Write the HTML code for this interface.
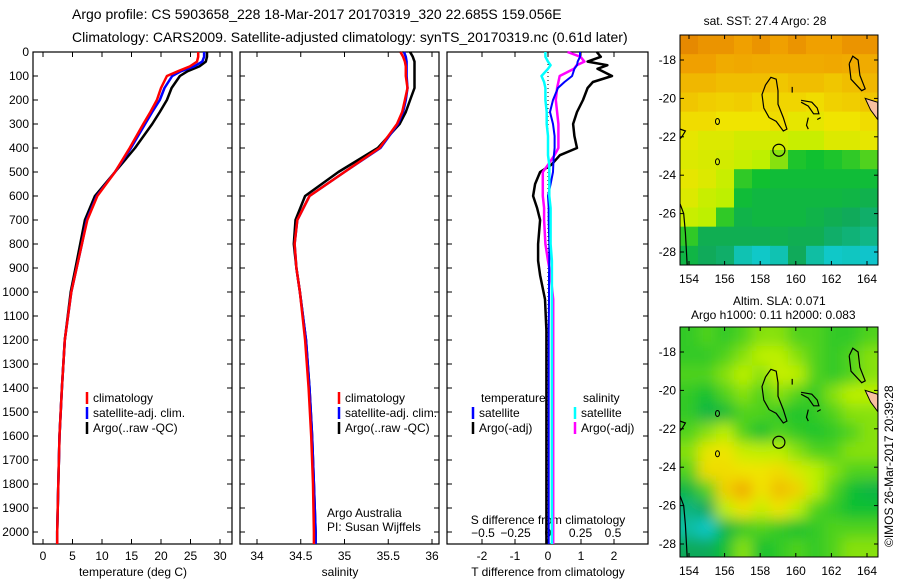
<!DOCTYPE html>
<html><head><meta charset="utf-8">
<style>
body{margin:0;background:#fff;}
svg{display:block;font-family:"Liberation Sans",sans-serif;}
</style></head>
<body>
<svg id="chart" width="900" height="580" viewBox="0 0 900 580">
<rect width="900" height="580" fill="#fff"/>
<text x="72" y="19" font-size="14">Argo profile: CS 5903658_228 18-Mar-2017 20170319_320 22.685S 159.056E</text>
<text x="72" y="42" font-size="14">Climatology: CARS2009. Satellite-adjusted climatology: synTS_20170319.nc (0.61d later)</text>
<g id="g"></g>
</svg>
<script>
// ---- data ----
const depths=[0,20,40,60,80,100,150,200,250,300,400,500,600,700,800,900,1000,1200,1400,1600,1800,2000,2050];
const tClim=[26.3,26.3,26.1,24.9,22.9,21.0,20.0,19.3,18.2,17.0,14.7,12.2,9.2,7.5,6.6,5.7,4.8,3.7,3.2,2.8,2.6,2.4,2.4];
const tSat=[27.3,27.3,27.0,25.6,23.4,21.9,20.6,19.8,18.5,17.3,14.9,12.2,9.1,7.4,6.6,5.7,4.8,3.7,3.2,2.8,2.6,2.4,2.4];
const tArgo=[27.8,27.8,27.6,26.5,24.5,23.2,21.8,21.0,19.8,18.5,15.6,12.2,8.8,7.1,6.3,5.5,4.7,3.7,3.2,2.8,2.6,2.4,2.4];
const sClim=[35.64,35.67,35.69,35.7,35.7,35.7,35.72,35.69,35.66,35.6,35.4,35.0,34.6,34.46,34.43,34.45,34.49,34.55,34.59,34.62,34.64,34.65,34.65];
const sSat=[35.68,35.7,35.71,35.71,35.71,35.71,35.72,35.7,35.67,35.61,35.41,35.0,34.6,34.46,34.43,34.45,34.49,34.56,34.6,34.63,34.65,34.67,34.67];
const sArgo=[35.75,35.78,35.8,35.8,35.8,35.8,35.8,35.75,35.7,35.63,35.38,34.93,34.55,34.44,34.42,34.45,34.49,34.56,34.6,34.63,34.65,34.67,34.67];
const dDepth=[0,20,40,55,70,100,125,150,200,250,300,350,400,430,470,500,550,600,650,700,800,870,930,1030,1160,1400,1700,2000,2050];
const dTArgo=[1.48,1.6,1.2,1.8,1.5,1.94,1.36,1.2,1.06,0.88,0.76,0.8,0.88,0.36,0.1,-0.24,-0.39,-0.45,-0.33,-0.24,-0.3,-0.3,-0.24,-0.09,-0.05,-0.05,-0.05,-0.05,-0.05];
const dTSat=[0.97,0.97,0.9,0.88,0.8,0.73,0.5,0.3,0.15,0.06,0.15,0.2,0.2,0.18,0.16,0.15,0.08,0.0,0.02,0.02,0.04,0.04,0.03,0.03,0.02,0.02,0.02,0.02,0.02];
const dSSat=[-0.02,-0.02,0.0,0.02,0.0,-0.05,-0.03,-0.02,-0.02,-0.01,-0.01,0.0,0.0,0.0,0.01,0.01,0.01,0.01,0.02,0.02,0.02,0.03,0.03,0.03,0.03,0.03,0.03,0.03,0.03];
const dSArgo=[0.15,0.25,0.28,0.22,0.2,0.09,0.08,0.07,0.06,0.07,0.08,0.08,0.08,0.05,0.0,-0.04,-0.04,-0.04,-0.03,-0.03,-0.02,0.0,0.02,0.04,0.04,0.04,0.04,0.04,0.04];
const depthTicks=[0,100,200,300,400,500,600,700,800,900,1000,1100,1200,1300,1400,1500,1600,1700,1800,1900,2000];
const tTicks=[0,5,10,15,20,25,30];
const sTicks=[34,34.5,35,35.5,36];
const dTTicks=[-2,-1,0,1,2];
const dSTicks=[-0.5,-0.25,0,0.25,0.5];
const lonTicks=[154,156,158,160,162,164];
const latTicks=[-18,-20,-22,-24,-26,-28];
const sstGrid=[
[0.92,0.9,0.9,0.88,0.9,0.88,0.9,0.88,0.88,0.9,0.9],
[0.88,0.88,0.85,0.86,0.85,0.85,0.85,0.85,0.86,0.85,0.85],
[0.82,0.82,0.8,0.8,0.8,0.78,0.8,0.8,0.78,0.8,0.82],
[0.78,0.76,0.75,0.76,0.74,0.74,0.74,0.72,0.75,0.76,0.78],
[0.72,0.72,0.7,0.7,0.7,0.72,0.68,0.68,0.7,0.7,0.72],
[0.68,0.66,0.66,0.64,0.64,0.64,0.62,0.62,0.66,0.66,0.68],
[0.66,0.65,0.64,0.62,0.6,0.55,0.42,0.4,0.42,0.45,0.5],
[0.68,0.66,0.62,0.45,0.4,0.38,0.38,0.38,0.38,0.38,0.38],
[0.66,0.62,0.6,0.38,0.36,0.36,0.36,0.36,0.36,0.35,0.33],
[0.62,0.6,0.45,0.34,0.36,0.36,0.36,0.34,0.32,0.3,0.28],
[0.45,0.32,0.32,0.32,0.32,0.33,0.32,0.32,0.28,0.26,0.24],
[0.35,0.3,0.28,0.18,0.15,0.18,0.3,0.2,0.15,0.16,0.14]];
const slaGrid=[
[0.45,0.5,0.45,0.5,0.55,0.55,0.5,0.5,0.45,0.45,0.5],
[0.45,0.45,0.5,0.55,0.6,0.6,0.55,0.5,0.45,0.5,0.55],
[0.5,0.5,0.55,0.6,0.55,0.62,0.6,0.5,0.45,0.5,0.55],
[0.45,0.4,0.5,0.55,0.5,0.55,0.5,0.45,0.55,0.6,0.6],
[0.45,0.35,0.38,0.5,0.5,0.45,0.42,0.45,0.5,0.55,0.55],
[0.5,0.55,0.6,0.5,0.4,0.5,0.45,0.42,0.45,0.5,0.55],
[0.55,0.68,0.7,0.62,0.6,0.6,0.55,0.5,0.5,0.55,0.55],
[0.5,0.72,0.72,0.7,0.7,0.72,0.65,0.6,0.55,0.5,0.5],
[0.35,0.5,0.75,0.85,0.7,0.8,0.75,0.6,0.5,0.4,0.35],
[0.25,0.3,0.6,0.7,0.62,0.7,0.6,0.5,0.45,0.4,0.4],
[0.2,0.15,0.35,0.45,0.5,0.45,0.4,0.45,0.5,0.5,0.5],
[0.3,0.3,0.4,0.55,0.4,0.45,0.5,0.45,0.5,0.55,0.55]];

// ---- helpers ----
const NS="http://www.w3.org/2000/svg";
const G=document.getElementById('g');
function mk(tag,attrs,parent){const e=document.createElementNS(NS,tag);for(const k in attrs)e.setAttribute(k,attrs[k]);(parent||G).appendChild(e);return e;}
function txt(x,y,s,anchor,size,name){const e=mk('text',{x:x,y:y,'font-size':size||12,'text-anchor':anchor||'start'});e.textContent=s;


return e;}
const Y=d=>52+d*0.24;
const tx=v=>43+v*5.9;
const sx=v=>257+(v-34)*87.5;
const dx=v=>548+v*33;
const ssx=v=>548+v*130;
const TOP=52,BOT=544;

function panel(x0,x1,name){
  const r=mk('rect',{x:x0,y:TOP,width:x1-x0,height:BOT-TOP,fill:'none',stroke:'#000','stroke-width':1.2});
  
  
  depthTicks.forEach(d=>{
    const a=mk('line',{x1:x0,x2:x0+5,y1:Y(d),y2:Y(d),stroke:'#000'});
    
    
    const b=mk('line',{x1:x1-5,x2:x1,y1:Y(d),y2:Y(d),stroke:'#000'});
    
    
  });
}
function xticks(ticks,f,lbly,name,fmt){
  ticks.forEach(t=>{
    const a=mk('line',{x1:f(t),x2:f(t),y1:TOP,y2:TOP+5,stroke:'#000'});
    
    
    const b=mk('line',{x1:f(t),x2:f(t),y1:BOT-5,y2:BOT,stroke:'#000'});
    
    
    if(lbly)txt(f(t),lbly,fmt?fmt(t):String(t),'middle',12,name+'-tick-label');
  });
}
function line(xs,ds,f,color,name,w){
  const pts=xs.map((v,i)=>f(v).toFixed(1)+','+Y(ds[i]).toFixed(1)).join(' ');
  const p=mk('polyline',{points:pts,fill:'none',stroke:color,'stroke-width':w||2.5,'stroke-linejoin':'round'});
  
  
}
function legend(x,y,color,label,name){
  const l=mk('line',{x1:x,x2:x,y1:y-10,y2:y+2,stroke:color,'stroke-width':2.5});
  
  
  txt(x+6,y,label,'start',12,name+'-label');
}

// depth labels
depthTicks.forEach(d=>txt(29,Y(d)+4,String(d),'end',12,'depth-tick-label'));

// panel 1 temperature
panel(33,232,'temperature-panel');
xticks(tTicks,tx,560,'temperature-x');
txt(133,576,'temperature (deg C)','middle',12,'temperature-x-axis-title');
line(tArgo,depths,tx,'#000','temperature-argo-line');
line(tSat,depths,tx,'#00f','temperature-satellite-line');
line(tClim,depths,tx,'#f00','temperature-climatology-line');
legend(87,402,'#f00','climatology','temp-legend-climatology');
legend(87,417,'#00f','satellite-adj. clim.','temp-legend-satellite');
legend(87,432,'#000','Argo(..raw -QC)','temp-legend-argo');

// panel 2 salinity
panel(240,439,'salinity-panel');
xticks(sTicks,sx,560,'salinity-x');
txt(340,576,'salinity','middle',12,'salinity-x-axis-title');
line(sArgo,depths,sx,'#000','salinity-argo-line');
line(sSat,depths,sx,'#00f','salinity-satellite-line');
line(sClim,depths,sx,'#f00','salinity-climatology-line');
legend(339,402,'#f00','climatology','sal-legend-climatology');
legend(339,417,'#00f','satellite-adj. clim.','sal-legend-satellite');
legend(339,432,'#000','Argo(..raw -QC)','sal-legend-argo');
txt(327,517,'Argo Australia','start',12,'argo-australia-credit');
txt(327,531,'PI: Susan Wijffels','start',12,'pi-credit');

// panel 3 differences
panel(447,648,'difference-panel');
xticks(dTTicks,dx,560,'tdiff-x');
dSTicks.forEach(t=>txt(ssx(t),537,String(t).replace('-','\u2212'),'middle',12,'sdiff-tick-label'));
txt(548,524,'S difference from climatology','middle',12,'sdiff-axis-title');
txt(548,576,'T difference from climatology','middle',12,'tdiff-axis-title');
const zl=mk('line',{x1:548,x2:548,y1:TOP,y2:BOT,stroke:'#000','stroke-dasharray':'1,3'});


line(dTArgo,dDepth,dx,'#000','tdiff-argo-line');
line(dSArgo,dDepth,ssx,'#f0f','sdiff-argo-line');
line(dTSat,dDepth,dx,'#00f','tdiff-satellite-line',2);
line(dSSat,dDepth,ssx,'#0ff','sdiff-satellite-line');
txt(481,402,'temperature','start',12,'legend-temperature-heading');
legend(473,417,'#00f','satellite','diff-legend-t-satellite');
legend(473,432,'#000','Argo(-adj)','diff-legend-t-argo');
txt(583,402,'salinity','start',12,'legend-salinity-heading');
legend(575,417,'#0ff','satellite','diff-legend-s-satellite');
legend(575,432,'#f0f','Argo(-adj)','diff-legend-s-argo');

// ---- maps ----
const stops=[[0,[16,140,240]],[0.15,[16,200,200]],[0.3,[16,170,90]],[0.4,[16,192,48]],[0.5,[80,210,30]],[0.6,[190,240,0]],[0.7,[240,228,0]],[0.8,[240,190,0]],[0.88,[240,160,0]],[1,[210,90,0]]];
function cmap(v){for(let i=1;i<stops.length;i++){if(v<=stops[i][0]){const a=stops[i-1],b=stops[i],t=(v-a[0])/(b[0]-a[0]);return 'rgb('+a[1].map((c,k)=>Math.round(c+(b[1][k]-c)*t)).join(',')+')';}}return 'rgb(210,90,0)';}
const coast=[
[[158.3,-19.3],[158.6,-18.9],[158.9,-19],[159,-19.6],[159,-20.3],[159.3,-21],[159.5,-21.6],[159.3,-21.7],[158.9,-21.2],[158.5,-21],[158.2,-20.5],[158.1,-19.8],[158.3,-19.3]],
[[160.3,-20.1],[160.9,-20.2],[161.2,-20.5],[161.3,-20.8],[161,-20.8],[160.7,-20.4],[160.3,-20.2]],
[[163,-18.2],[163.2,-17.8],[163.5,-18],[163.6,-18.8],[163.9,-19.5],[163.7,-19.6],[163.1,-19],[163,-18.2]],
[[153.5,-25.5],[153.7,-26],[153.8,-27],[153.9,-28.7]],
[[153.5,-21.6],[153.8,-21.7],[153.6,-22],[153.5,-22.1]],
[[160.7,-21],[160.6,-21.4],[160.7,-21.6]],[[161.2,-21.1],[161.4,-21.0]],[[159.8,-19.4],[159.8,-19.7]]];
function drawMap(y0,grid,name,blur){
  const lx=l=>689+(l-154)*17.8;
  const ly=la=>y0+25+(-18-la)*19.2;
  const X0=680,X1=878,Y0=y0,Y1=y0+230;
  const cid='clip'+name;
  const defs=mk('defs',{});
  const cp=mk('clipPath',{id:cid},defs);mk('rect',{x:X0,y:Y0,width:X1-X0,height:Y1-Y0},cp);
  if(blur){const f=mk('filter',{id:'bl'+name,x:'-10%',y:'-10%',width:'120%',height:'120%'},defs);mk('feGaussianBlur',{stdDeviation:7,'edgeMode':'duplicate'},f);}
  const gg=mk('g',{'clip-path':'url(#'+cid+')'});
  
  
  const cells=mk('g',blur?{filter:'url(#bl'+name+')'}:{},gg);
  const cw=(X1-X0)/11,ch=(Y1-Y0)/12;
  grid.forEach((row,j)=>row.forEach((v,i)=>{
    const c=mk('rect',{x:X0+i*cw-(blur?20*(i==0):0),y:Y0+j*ch-(blur?20*(j==0):0),width:cw+0.5+(blur?20*((i==0)+(i==10)):0),height:ch+0.5+(blur?20*((j==0)+(j==11)):0),fill:cmap(v)},cells);
    
    
  }));
  const land=mk('polygon',{points:[[163.9,-20],[164.6,-20.2],[164.6,-21.1],[164.2,-20.6]].map(p=>lx(p[0])+','+ly(p[1])).join(' '),fill:'#f8c0a0',stroke:'#000'},gg);
  
  
  coast.forEach(c=>{const p=mk('polyline',{points:c.map(q=>lx(q[0]).toFixed(1)+','+ly(q[1]).toFixed(1)).join(' '),fill:'none',stroke:'#000','stroke-width':1.2},gg);
    
    });
  const ci=mk('circle',{cx:lx(159.05),cy:ly(-22.7),r:6,fill:'none',stroke:'#000','stroke-width':1.2},gg);
  
  
  [[155.6,-21.2],[155.6,-23.3]].forEach(q=>{const e=mk('ellipse',{cx:lx(q[0]),cy:ly(q[1]),rx:2,ry:3,fill:'none',stroke:'#000'},gg);
    
    });
  const fr=mk('rect',{x:X0,y:Y0,width:X1-X0,height:Y1-Y0,fill:'none',stroke:'#000'});
  
  
  lonTicks.forEach(l=>{
    const a=mk('line',{x1:lx(l),x2:lx(l),y1:Y0,y2:Y0+4,stroke:'#000'});
    
    
    const b=mk('line',{x1:lx(l),x2:lx(l),y1:Y1-4,y2:Y1,stroke:'#000'});
    
    
    txt(lx(l),Y1+18,String(l),'middle',12,name+'-lon-label');
  });
  latTicks.forEach(la=>{
    const a=mk('line',{x1:X0,x2:X0+4,y1:ly(la),y2:ly(la),stroke:'#000'});
    
    
    const b=mk('line',{x1:X1-4,x2:X1,y1:ly(la),y2:ly(la),stroke:'#000'});
    
    
    txt(X0-4,ly(la)+4,String(la),'end',12,name+'-lat-label');
  });
}
drawMap(35,sstGrid,'sst-map',false);
txt(765,25,'sat. SST: 27.4  Argo: 28','middle',12,'sst-map-title');
drawMap(327,slaGrid,'sla-map',true);
txt(733,305,'Altim. SLA: 0.071','start',12,'sla-map-title');
txt(691,319,'Argo h1000: 0.11  h2000: 0.083','start',12,'sla-map-subtitle');
const cr=txt(0,0,'\u00a9IMOS 26-Mar-2017 20:39:28','start',12,'copyright-stamp');
cr.setAttribute('transform','translate(893,547) rotate(-90)');
</script>
</body></html>
